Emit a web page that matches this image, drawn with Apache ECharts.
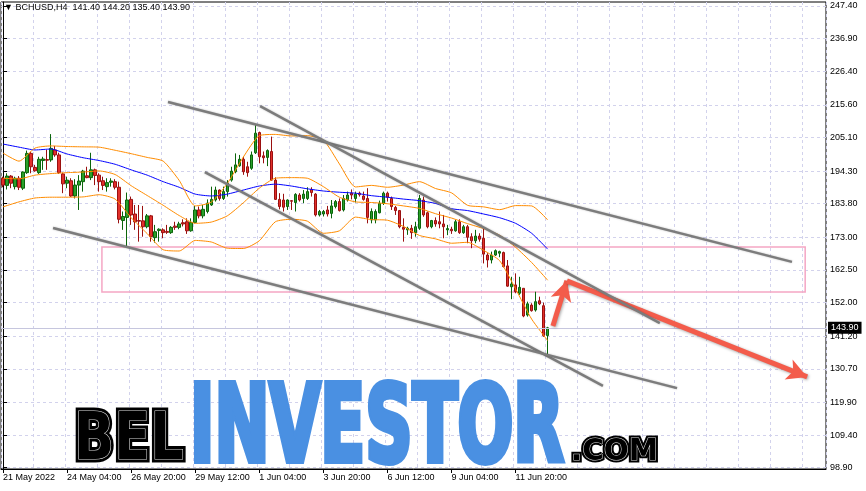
<!DOCTYPE html>
<html><head><meta charset="utf-8">
<script src="https://cdn.jsdelivr.net/npm/echarts@6/dist/echarts.min.js"></script>
<style>html,body{margin:0;padding:0;background:#fff}#c{width:866px;height:491px}</style>
</head><body><div id="c"></div>
<script>
// ---------- data ----------
const headerText = '\u25BC BCHUSD,H4  141.40 144.20 135.40 143.90';
const startTimeUTC = Date.UTC(2022, 4, 21, 12); // first H4 bar
const barHours = 4;
const totalSlots = 206;   // bars + empty chart-shift area
const labelEvery = 16;    // time label every 16 bars
const gridEvery = 8;      // vertical grid every 8 bars

const opens = [192.0,189.7,192.7,189.3,192.0,188.8,193.8,200.0,195.5,193.8,
197.7,198.0,197.9,201.1,199.5,193.4,190.4,191.2,186.3,189.8,
190.9,192.8,192.2,194.7,193.0,191.2,189.3,190.7,190.9,189.1,
178.4,179.4,185.2,180.5,178.4,178.3,176.4,179.9,172.9,175.2,
175.4,174.9,174.5,176.6,176.2,177.7,178.0,175.1,177.8,181.8,
179.9,181.3,183.4,185.0,188.2,185.5,187.7,191.4,194.1,196.0,
198.1,195.7,195.2,200.2,206.7,199.2,198.7,200.6,191.4,185.2,
185.0,182.9,184.8,184.2,186.6,185.5,185.5,188.4,186.9,180.2,
180.5,181.8,180.7,182.9,184.5,181.8,185.0,187.2,185.5,187.2,
186.3,185.5,178.6,178.6,180.9,183.9,187.2,185.5,182.6,181.6,
176.2,175.4,175.9,174.5,175.9,185.0,180.9,176.4,178.4,178.0,
177.3,175.4,175.6,175.1,178.0,174.5,176.4,173.2,171.9,173.4,
172.7,167.3,165.7,167.3,167.9,168.1,163.8,157.1,157.7,155.0,
156.6,148.0,151.2,149.6,152.6,151.0,141.4];
const highs = [192.5,193.6,193.0,192.5,192.7,194.2,200.9,200.5,196.3,198.9,
198.9,201.1,206.2,202.4,200.2,193.8,192.5,192.0,191.7,193.0,
194.7,195.7,200.2,195.1,193.6,192.5,192.0,192.0,191.7,190.9,
181.3,187.4,186.1,183.4,183.4,183.1,180.5,180.2,177.0,175.9,
175.9,177.0,176.6,178.0,178.0,178.8,179.1,179.1,183.1,182.9,
183.4,185.2,189.3,189.3,188.4,189.3,191.4,195.7,200.0,199.5,
198.9,197.3,200.6,209.1,207.0,200.6,201.3,205.4,192.3,187.2,
187.0,185.2,185.0,187.2,187.2,188.2,189.1,189.1,187.2,181.8,
181.8,183.1,185.0,185.0,185.5,186.6,187.7,188.4,187.7,187.7,
187.7,188.8,182.3,182.0,184.8,187.7,187.7,186.1,183.1,181.8,
179.1,176.4,177.0,178.0,186.6,186.1,181.3,178.6,179.4,181.3,
180.2,177.0,176.4,178.6,178.8,177.0,177.0,174.3,175.4,174.3,
175.9,167.9,168.4,169.1,168.7,168.4,165.7,160.3,161.4,160.3,
156.6,152.3,151.8,155.5,153.9,152.0,144.2];
const lows = [189.1,188.4,188.8,188.4,188.2,188.2,193.4,193.6,194.1,193.4,
194.7,194.7,197.3,198.9,193.4,187.2,188.8,186.0,185.5,181.8,
187.7,192.0,191.4,189.8,187.7,188.2,187.7,189.3,188.4,177.5,
175.4,170.0,177.0,175.4,171.6,173.2,175.9,171.6,171.3,171.6,
172.7,174.1,174.1,175.4,175.6,176.5,174.1,174.8,177.5,179.1,
179.1,180.7,183.1,184.5,184.8,185.0,186.1,190.9,193.6,195.7,
193.1,192.5,194.7,199.8,196.8,196.8,195.9,191.2,185.0,182.0,
181.3,181.8,181.8,181.3,184.5,184.0,185.0,186.1,179.7,179.7,
179.7,179.7,179.1,182.3,181.3,181.3,184.5,185.2,184.2,186.1,
184.8,177.5,177.5,177.5,180.7,183.4,184.5,181.8,180.2,175.9,
171.6,173.8,172.5,173.2,175.4,179.6,175.9,175.9,176.4,175.9,
172.7,173.7,174.1,174.8,174.1,174.1,171.1,169.5,171.1,171.6,
164.6,163.3,164.6,167.0,166.6,163.3,157.1,153.1,155.0,154.5,
147.3,147.5,149.1,149.1,151.2,141.0,135.4];
const closes = [189.8,192.7,190.4,192.0,189.1,194.0,200.0,195.7,194.4,198.1,
198.2,197.8,201.6,199.5,193.8,190.2,191.4,186.3,189.8,191.1,
194.3,192.2,194.7,192.9,190.9,189.7,190.6,191.1,189.1,178.8,
179.7,185.0,180.2,178.0,178.2,176.4,179.9,173.2,174.8,175.6,
174.5,174.6,176.2,176.2,177.3,177.3,175.1,177.8,181.8,179.9,
182.0,184.0,185.2,188.2,185.5,187.7,190.4,194.3,196.3,198.1,
194.1,193.8,199.5,206.5,198.9,198.6,200.9,191.4,185.2,182.9,
182.7,185.0,184.6,186.8,185.0,186.9,187.7,187.4,180.2,181.3,
181.3,180.5,183.1,184.5,181.6,185.5,186.6,186.6,186.9,186.7,
185.2,179.4,181.3,181.3,183.9,187.2,185.9,182.9,181.6,176.4,
175.6,175.9,174.5,176.4,185.5,180.2,176.4,178.4,177.3,177.3,
176.4,175.8,175.1,178.0,174.5,176.4,173.0,171.9,173.4,172.4,
167.6,165.7,167.3,168.7,168.4,163.6,157.3,158.0,155.5,156.9,
147.7,151.6,149.4,152.3,151.6,141.4,143.9];

// indicator lines, one value every 4 bars (bar 0, 4, 8, ... 136)
const lineStep = 4;
const bbUpper = [200.1,197.5,201.7,202.4,202.2,202.1,202.0,201.0,199.9,198.7,197.5,191.3,183.1,184.3,190.3,198.8,205.7,206.1,205.6,205.7,204.3,196.6,189.2,189.7,189.1,189.8,190.9,188.7,187.3,183.3,182.8,181.9,183.2,183.1,178.6];
const bbMiddle = [192.0,191.8,193.0,193.5,193.8,194.0,194.35,193.2,189.6,186.45,183.3,180.0,177.5,177.9,179.9,184.1,188.8,192.0,192.2,192.0,189.3,185.9,184.4,184.2,183.8,183.1,182.3,180.6,179.2,177.4,175.8,173.7,169.8,164.9,159.2];
const bbLower = [182.8,184.4,185.65,185.9,185.9,186.0,186.7,185.3,179.3,174.2,169.0,168.6,172.0,171.5,169.5,169.4,171.9,178.0,178.8,178.2,174.3,175.1,179.5,178.7,178.5,176.5,173.6,172.5,171.1,171.4,168.8,165.5,156.4,146.7,139.8];
const maLine = [203.0,202.0,201.1,201.4,199.8,198.6,197.7,196.5,194.7,193.0,190.9,189.1,186.9,186.3,186.9,188.2,189.5,190.1,189.5,188.6,187.9,187.5,187.2,186.4,185.9,185.3,184.8,183.9,182.2,181.6,180.5,179.3,177.5,174.3,169.2];

const priceTicks = [98.90,109.40,119.90,130.70,141.20,152.00,162.50,173.00,183.80,194.30,205.10,215.60,226.40,236.90,247.40];
const priceMin = 98.48, priceMax = 248.69;
const lastPrice = 143.90;

// drawn objects, in [bar index, price]
const trendLines = [
  [[41.2, 216.5], [197.0, 165.1]],
  [[64.2, 215.2], [164.0, 145.4]],
  [[50.4, 194.0], [149.8, 125.2]],
  [[12.5, 176.0], [168.3, 124.5]]
];
const zoneRect = [[24.7, 169.9], [200.3, 155.4]];
const arrowLines = [
  [[137.3, 144.5], [140.8, 159.0]],
  [[140.8, 159.0], [200.8, 128.1]]
];

// ---------- build ----------
const MONTHS = ['Jan','Feb','Mar','Apr','May','Jun','Jul','Aug','Sep','Oct','Nov','Dec'];
const pad = n => (n < 10 ? '0' : '') + n;
const categories = [];
for (let i = 0; i < totalSlots; i++) {
  const d = new Date(startTimeUTC + i * barHours * 3600e3);
  categories.push(i === 0
    ? d.getUTCDate() + ' ' + MONTHS[d.getUTCMonth()] + ' ' + d.getUTCFullYear()
    : d.getUTCDate() + ' ' + MONTHS[d.getUTCMonth()] + ' ' + pad(d.getUTCHours()) + ':' + pad(d.getUTCMinutes()));
}
const nBars = opens.length;
const candleData = opens.map((o, i) => [o, closes[i], lows[i], highs[i]]);
const toLine = arr => arr.map((v, k) => [k * lineStep, v]);
const showLabel = idx => idx % labelEvery === 0 && idx < nBars;

const FONT = '"Liberation Sans", Arial, sans-serif';
const WM_FONT = '"DejaVu Sans Condensed", "DejaVu Sans", sans-serif';
const mctx = document.createElement('canvas').getContext('2d');
function measure(text, font) { mctx.font = font; return mctx.measureText(text).width; }
// baseline: glyph baseline y; text box bottom sits one descent (~0.235em) lower
function wm(text, fontSize, left, right, baseline, style) {
  const font = 'bold ' + fontSize + 'px ' + WM_FONT;
  const s = (right - left) / measure(text, font);
  return {
    type: 'text', x: left, y: baseline + 0.235 * fontSize, scaleX: s, z: 100, silent: true,
    style: Object.assign({ text: text, font: font, x: 0, y: 0,
      align: 'left', textAlign: 'left', verticalAlign: 'bottom', textVerticalAlign: 'bottom' }, style)
  };
}

const gridLine = { color: '#d2d2ec', width: 1, type: [3, 3] };

const option = {
  animation: false,
  backgroundColor: '#ffffff',
  textStyle: { fontFamily: FONT },
  title: {
    text: headerText, left: 4, top: 3, padding: 0,
    textStyle: { fontSize: 9, fontWeight: 'normal', color: '#000', fontFamily: FONT }
  },
  grid: { left: 1, right: 40, top: 2, bottom: 22, show: true, borderColor: '#000', borderWidth: 1, backgroundColor: 'transparent' },
  xAxis: [
    {
      type: 'category', data: categories, boundaryGap: true, gridIndex: 0,
      axisLine: { show: true, lineStyle: { color: '#000', width: 1 } },
      axisTick: { show: true, alignWithLabel: true, interval: showLabel, length: 4, lineStyle: { color: '#000' } },
      axisLabel: { show: true, interval: showLabel, align: 'left', margin: 4, fontSize: 9, color: '#000', fontFamily: FONT },
      splitLine: { show: false }
    },
    {
      type: 'value', min: -0.5, max: totalSlots - 0.5, interval: gridEvery, gridIndex: 0,
      axisLine: { show: false }, axisTick: { show: false }, axisLabel: { show: false },
      splitLine: { show: true, lineStyle: gridLine }
    }
  ],
  yAxis: [{
    type: 'value', position: 'right', min: priceMin, max: priceMax, scale: true,
    axisLine: { show: true, lineStyle: { color: '#000', width: 1 } },
    axisTick: { show: true, length: 4, customValues: priceTicks, lineStyle: { color: '#000' } },
    axisLabel: { show: true, customValues: priceTicks, margin: 4, fontSize: 9, color: '#000', fontFamily: FONT,
      formatter: v => v.toFixed(2) },
    splitLine: { show: true, lineStyle: gridLine }
  }],
  series: [
    {
      type: 'line', name: 'zone', xAxisIndex: 1, yAxisIndex: 0, data: zoneRect, showSymbol: false,
      lineStyle: { opacity: 0 }, z: 1, silent: true,
      markArea: {
        silent: true,
        itemStyle: { color: 'rgba(255,255,255,0)', borderColor: '#f5a6c4', borderWidth: 1.5 },
        data: [[{ coord: zoneRect[0] }, { coord: zoneRect[1] }]]
      }
    },
    {
      type: 'candlestick', name: 'BCHUSD', xAxisIndex: 0, yAxisIndex: 0, data: candleData, barWidth: 3, z: 3,
      itemStyle: { color: '#2aa02a', color0: '#e2302a', borderColor: '#0b650b', borderColor0: '#9a1010', borderWidth: 1 },
      markLine: {
        silent: true, symbol: 'none', animation: false,
        lineStyle: { color: '#c6c6de', width: 1, type: 'solid' },
        label: { show: true, position: 'end', distance: 2, formatter: lastPrice.toFixed(2), color: '#fff',
          backgroundColor: '#000', padding: [2, 3, 1, 3], fontSize: 9, fontFamily: FONT },
        data: [{ yAxis: lastPrice }]
      }
    },
    { type: 'line', name: 'MA', xAxisIndex: 1, data: toLine(maLine), showSymbol: false, smooth: 0.2, z: 4,
      lineStyle: { color: '#0000ff', width: 1 } },
    { type: 'line', name: 'BB upper', xAxisIndex: 1, data: toLine(bbUpper), showSymbol: false, smooth: 0.2, z: 4,
      lineStyle: { color: '#ff8c00', width: 1 } },
    { type: 'line', name: 'BB middle', xAxisIndex: 1, data: toLine(bbMiddle), showSymbol: false, smooth: 0.2, z: 4,
      lineStyle: { color: '#ff8c00', width: 1 } },
    { type: 'line', name: 'BB lower', xAxisIndex: 1, data: toLine(bbLower), showSymbol: false, smooth: 0.2, z: 4,
      lineStyle: { color: '#ff8c00', width: 1 } }
  ].concat(trendLines.map((seg, i) => ({
    type: 'line', name: 'trend' + i, xAxisIndex: 1, data: seg, showSymbol: false, z: 5, silent: true,
    lineStyle: { color: '#7c7c7c', width: 2.5, shadowColor: 'rgba(0,0,0,0.25)', shadowBlur: 2 }
  }))).concat([{
    type: 'line', name: 'arrows', xAxisIndex: 1, data: arrowLines[0], showSymbol: false,
    lineStyle: { opacity: 0 }, z: 6, silent: true,
    markLine: {
      silent: true, animation: false, symbol: ['none', 'arrow'], symbolSize: [16, 20],
      lineStyle: { color: '#f35c4b', width: 5, type: 'solid', shadowColor: 'rgba(0,0,0,0.35)', shadowBlur: 3, shadowOffsetX: 1, shadowOffsetY: 1 },
      itemStyle: { color: '#f35c4b' },
      label: { show: false },
      data: arrowLines.map(a => [{ coord: a[0] }, { coord: a[1] }])
    }
  }]),
  graphic: [
    wm('BEL', 65, 74, 184, 459.5, { fill: '#000', stroke: '#000', lineWidth: 7, lineJoin: 'miter' }),
    wm('BEL', 65, 74, 184, 459.5, { fill: '#000', stroke: '#dcdcdc', lineWidth: 1.2 }),
    wm('INVESTOR', 107, 190, 564, 462, { fill: '#4a90e2', stroke: '#4a90e2', lineWidth: 6, lineJoin: 'miter',
      shadowColor: 'rgba(0,0,0,0.25)', shadowBlur: 3 }),
    wm('.COM', 31, 571, 658, 460.5, { fill: '#000', stroke: '#000', lineWidth: 5 }),
    wm('.COM', 31, 571, 658, 460.5, { fill: '#000', stroke: '#dcdcdc', lineWidth: 1 })
  ]
};

const chart = echarts.init(document.getElementById('c'), null, { renderer: 'canvas', width: 866, height: 491 });
chart.setOption(option);
</script></body></html>
